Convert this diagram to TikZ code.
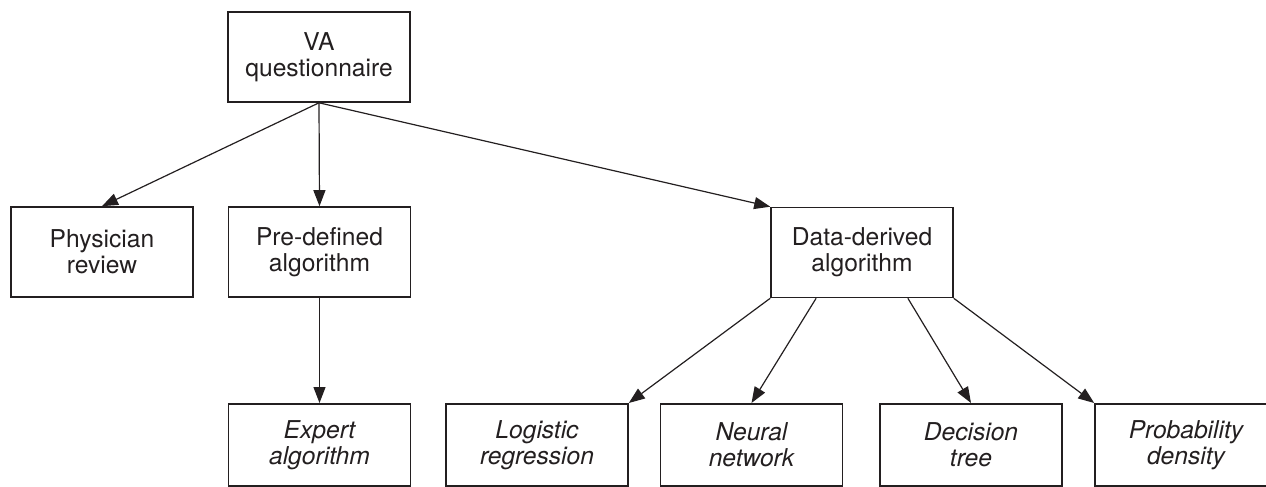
\documentclass[tikz,border=0pt]{standalone}
\usepackage{fontspec}
\setmainfont{TeX Gyre Heros}
\usetikzlibrary{calc}
\usetikzlibrary{arrows.meta}
\definecolor{inkgray}{RGB}{35,31,32}
\tikzset{
  box/.style={draw=inkgray,line width=0.8pt,minimum width=91pt,minimum height=45pt,align=center,text=inkgray,font=\fontsize{12.3}{13}\selectfont},
  leafbox/.style={box,minimum height=41pt,anchor=north,font=\fontsize{12.3}{13}\selectfont\itshape},
  link/.style={draw=inkgray,line width=0.6pt,-{Triangle[length=8pt,width=6pt]}}
}

\begin{document}
\begin{tikzpicture}[x=0.5pt,y=-0.5pt]

\clip (0,0) rectangle (1266,487);

\node[box] (questionnaire) at (319,57) {VA\\questionnaire};

\node[box] (physician) at (102,252) {Physician\\review};
\node[box] (predefined) at (319.5,252) {Pre-defined\\algorithm};
\node[box] (dataderived) at (862,252.5) {Data-derived\\algorithm};

\node[leafbox] (expert) at (319.5,403) {Expert\\algorithm};
\node[leafbox] (logistic) at (537,403) {Logistic\\regression};
\node[leafbox] (neural) at (751.5,403) {Neural\\network};
\node[leafbox] (decision) at (971,403) {Decision\\tree};
\node[leafbox] (probability) at (1186,403) {Probability\\density};

\draw[link] (questionnaire.south) -- (physician.north);
\draw[link] (questionnaire.south) -- (predefined.north);
\draw[link] (questionnaire.south) -- (dataderived.north west);

\draw[link] (predefined.south) -- (expert.north);

\draw[link] (dataderived.south west) -- (logistic.north east);
\draw[link] ($(dataderived.south west)!0.25!(dataderived.south east)$) -- (neural.north);
\draw[link] ($(dataderived.south west)!0.75!(dataderived.south east)$) -- (decision.north);
\draw[link] (dataderived.south east) -- (probability.north west);
\end{tikzpicture}
\end{document}
